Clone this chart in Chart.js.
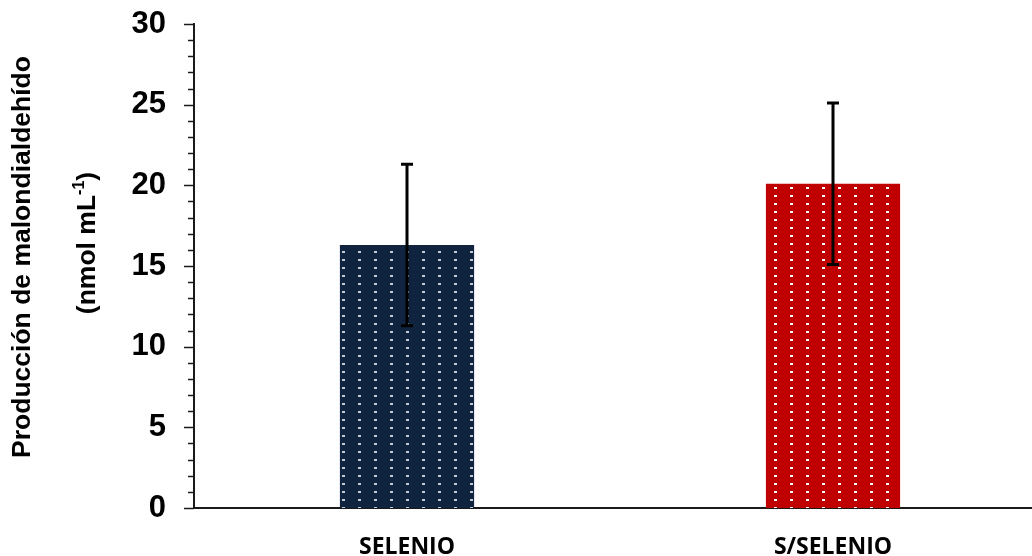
<!DOCTYPE html>
<html>
<head>
<meta charset="utf-8">
<script src="https://cdn.jsdelivr.net/npm/chart.js@4/dist/chart.umd.min.js"></script>
<style>
  html, body { margin: 0; padding: 0; overflow: hidden; background: #fff; }
  canvas { display: block; }
</style>
</head>
<body>
<canvas id="chart" width="1046" height="556"></canvas>
<script>
// Malondialdehyde production by treatment (mean ± SD)
const categories = ['SELENIO', 'S/SELENIO'];
const mdaMeans = [16.3, 20.1];
const mdaErrors = [5.0, 5.0];
const yMin = 0;
const yMax = 30;
const yMajorStep = 5;
const yMinorStep = 1;
const yTitleLine1 = 'Producción de malondialdehído';
const yTitleLine2 = '(nmol mL';
const yTitleSup = '-1';
const yTitleEnd = ')';

// Dotted fill: small light dots on a solid base colour
function dottedPattern(base, dot) {
  const tile = document.createElement('canvas');
  tile.width = 16;
  tile.height = 8;
  const t = tile.getContext('2d');
  t.fillStyle = base;
  t.fillRect(0, 0, 16, 8);
  t.fillStyle = dot;
  t.fillRect(6, 3, 3, 2);
  return document.getElementById('chart').getContext('2d').createPattern(tile, 'repeat');
}

const barFills = [
  dottedPattern('#10243f', '#c3cad6'),
  dottedPattern('#c00000', '#ffffff')
];

// Major and minor tick marks on the outside of the value axis
const axisTicks = {
  id: 'axisTicks',
  afterDraw(chart) {
    const s = chart.scales.y;
    const ctx = chart.ctx;
    const x0 = chart.chartArea.left;
    ctx.save();
    ctx.strokeStyle = '#1a1a1a';
    ctx.lineWidth = 1.5;
    for (let v = yMin; v <= yMax; v += yMinorStep) {
      const y = Math.round(s.getPixelForValue(v)) + 0.5;
      const len = v % yMajorStep === 0 ? 10 : 6;
      ctx.beginPath();
      ctx.moveTo(x0 - len, y);
      ctx.lineTo(x0, y);
      ctx.stroke();
    }
    ctx.restore();
  }
};

// Error bars drawn from the same means and deviations as the bars
const errorBars = {
  id: 'errorBars',
  afterDatasetsDraw(chart) {
    const meta = chart.getDatasetMeta(0);
    const s = chart.scales.y;
    const ctx = chart.ctx;
    ctx.save();
    ctx.strokeStyle = '#000';
    ctx.lineWidth = 3;
    meta.data.forEach((bar, i) => {
      const x = bar.x;
      const yHi = s.getPixelForValue(mdaMeans[i] + mdaErrors[i]);
      const yLo = s.getPixelForValue(mdaMeans[i] - mdaErrors[i]);
      ctx.beginPath();
      ctx.moveTo(x, yHi);
      ctx.lineTo(x, yLo);
      ctx.moveTo(x - 6, yHi);
      ctx.lineTo(x + 6, yHi);
      ctx.moveTo(x - 6, yLo);
      ctx.lineTo(x + 6, yLo);
      ctx.stroke();
    });
    ctx.restore();
  }
};

// Two-line rotated axis title with a superscript unit exponent
const yTitle = {
  id: 'yTitle',
  afterDraw(chart) {
    const ctx = chart.ctx;
    const mainFont = 'bold 26.5px "Liberation Sans", Arial, sans-serif';
    const supFont = 'bold 16px "Liberation Sans", Arial, sans-serif';
    ctx.save();
    ctx.fillStyle = '#000';
    ctx.textBaseline = 'middle';
    ctx.font = mainFont;
    ctx.translate(23, 257);
    ctx.rotate(-Math.PI / 2);
    ctx.textAlign = 'center';
    ctx.fillText(yTitleLine1, 0, 0);
    ctx.restore();

    ctx.save();
    ctx.fillStyle = '#000';
    ctx.textBaseline = 'middle';
    ctx.translate(88, 243);
    ctx.rotate(-Math.PI / 2);
    ctx.font = mainFont;
    const w1 = ctx.measureText(yTitleLine2).width;
    const w3 = ctx.measureText(yTitleEnd).width;
    ctx.font = supFont;
    const w2 = ctx.measureText(yTitleSup).width;
    let x = -(w1 + w2 + w3) / 2;
    ctx.textAlign = 'left';
    ctx.font = mainFont;
    ctx.fillText(yTitleLine2, x, 0);
    x += w1;
    ctx.font = supFont;
    ctx.fillText(yTitleSup, x, -8);
    x += w2;
    ctx.font = mainFont;
    ctx.fillText(yTitleEnd, x, 0);
    ctx.restore();
  }
};

new Chart(document.getElementById('chart'), {
  type: 'bar',
  data: {
    labels: categories,
    datasets: [{
      data: mdaMeans,
      backgroundColor: barFills,
      borderWidth: 0,
      categoryPercentage: 1,
      barPercentage: 0.315
    }]
  },
  options: {
    responsive: false,
    animation: false,
    layout: { padding: { top: 24, right: 0, bottom: 0, left: 0 } },
    plugins: {
      legend: { display: false },
      tooltip: { enabled: false }
    },
    scales: {
      x: {
        grid: { display: false },
        border: { display: true, color: '#1a1a1a', width: 2 },
        ticks: {
          color: '#000',
          padding: 18,
          font: { family: '"Open Sans", sans-serif', weight: 'bold', size: 23 }
        },
        afterFit(s) { s.height = 48; }
      },
      y: {
        min: yMin,
        max: yMax,
        grid: { display: false },
        border: { display: true, color: '#1a1a1a', width: 2 },
        ticks: {
          stepSize: yMajorStep,
          color: '#000',
          padding: 20,
          font: { family: '"Liberation Sans", Arial, sans-serif', weight: 'bold', size: 31 }
        },
        afterFit(s) {
          s.width = 194;
          s.paddingTop = 0;
          s.paddingBottom = 0;
        }
      }
    }
  },
  plugins: [axisTicks, errorBars, yTitle]
});
</script>
</body>
</html>
